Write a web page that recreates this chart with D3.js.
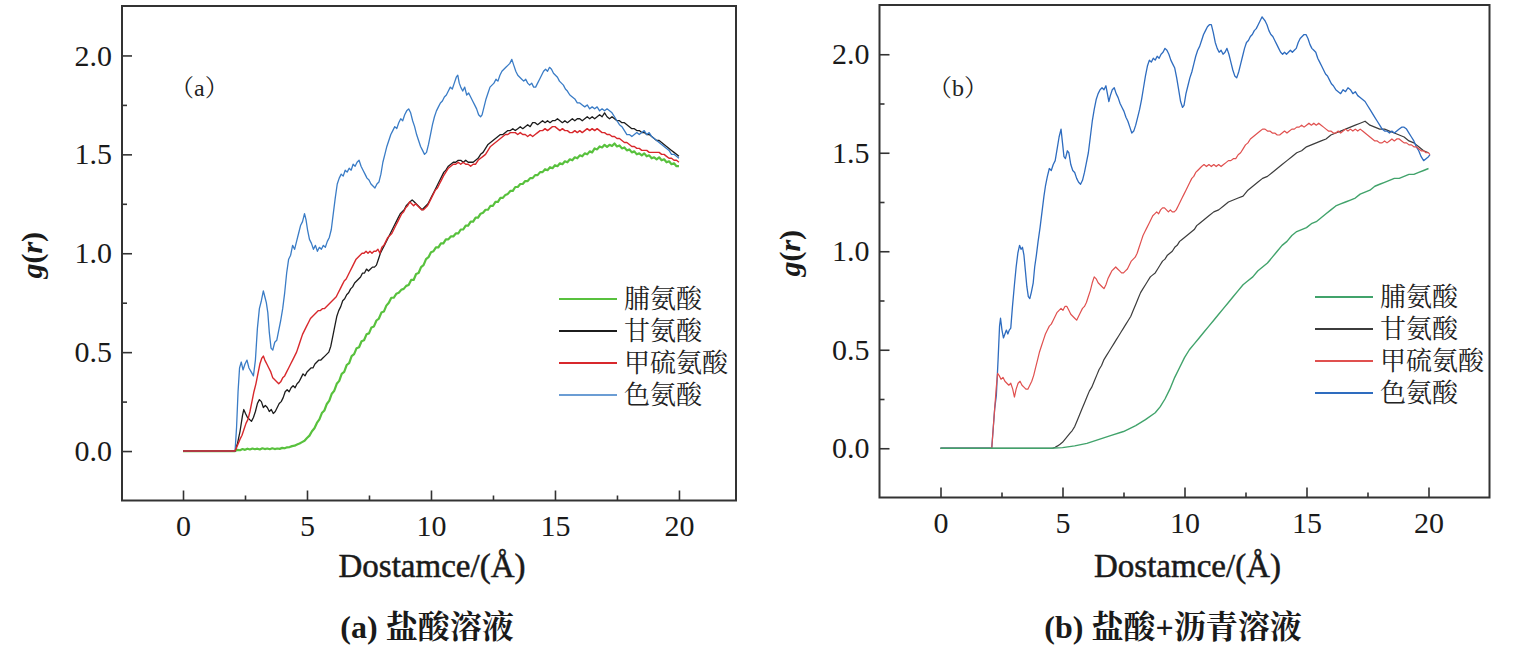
<!doctype html>
<html>
<head>
  <meta charset="utf-8">
  <title>g(r) curves</title>
  <script src="https://cdnjs.cloudflare.com/ajax/libs/d3/7.8.5/d3.min.js"></script>
  <style>
    body { margin: 0; background: #fff; }
    svg { display: block; }
    .tick line { stroke: #333; stroke-width: 1.6; }
  </style>
</head>
<body>
<div id="chart"></div>
<script>
// tick values
const xMajor = [0, 5, 10, 15, 20];
const xMinor = [2.5, 7.5, 12.5, 17.5];
const yMajor = [0, 0.5, 1.0, 1.5, 2.0];
const yMinor = [0.25, 0.75, 1.25, 1.75];

const names = ['脯氨酸', '甘氨酸', '甲硫氨酸', '色氨酸'];

// (a) 盐酸溶液  -- [r, g(r)]
const proA = [[0,0],[2.1,0],[2.2,0.006],[2.3,0.004],[2.4,0.01],[2.5,0.006],[2.6,0.012],[2.7,0.008],[2.8,0.013],[2.9,0.009],[3.0,0.012],[3.1,0.008],[3.2,0.014],[3.3,0.01],[3.4,0.013],[3.5,0.009],[3.6,0.014],[3.7,0.01],[3.8,0.013],[3.9,0.011],[4.0,0.016],[4.1,0.014],[4.2,0.019],[4.3,0.02],[4.4,0.025],[4.5,0.027],[4.6,0.033],[4.7,0.038],[4.8,0.045],[4.9,0.052],[5.0,0.066],[5.1,0.078],[5.2,0.1],[5.3,0.115],[5.4,0.142],[5.5,0.16],[5.6,0.192],[5.7,0.205],[5.8,0.238],[5.9,0.255],[6.0,0.29],[6.1,0.305],[6.2,0.34],[6.3,0.355],[6.4,0.39],[6.5,0.4],[6.6,0.435],[6.7,0.445],[6.8,0.48],[6.9,0.49],[7.0,0.52],[7.1,0.525],[7.2,0.555],[7.3,0.56],[7.4,0.59],[7.5,0.595],[7.6,0.625],[7.7,0.63],[7.8,0.66],[7.9,0.67],[8.0,0.7],[8.1,0.705],[8.2,0.735],[8.3,0.75],[8.4,0.775],[8.5,0.775],[8.6,0.795],[8.7,0.8],[8.8,0.815],[8.9,0.82],[9.0,0.835],[9.1,0.84],[9.2,0.865],[9.3,0.865],[9.4,0.895],[9.5,0.9],[9.6,0.93],[9.7,0.94],[9.8,0.97],[9.9,0.98],[10.0,1.005],[10.1,1.01],[10.2,1.03],[10.3,1.03],[10.4,1.05],[10.5,1.05],[10.6,1.07],[10.7,1.07],[10.8,1.085],[10.9,1.085],[11.0,1.1],[11.1,1.1],[11.2,1.12],[11.3,1.12],[11.4,1.14],[11.5,1.14],[11.6,1.16],[11.7,1.16],[11.8,1.18],[11.9,1.18],[12.0,1.2],[12.1,1.205],[12.2,1.22],[12.3,1.22],[12.4,1.24],[12.5,1.24],[12.6,1.26],[12.7,1.26],[12.8,1.28],[12.9,1.28],[13.0,1.295],[13.1,1.3],[13.2,1.315],[13.3,1.315],[13.4,1.335],[13.5,1.335],[13.6,1.35],[13.7,1.35],[13.8,1.365],[13.9,1.365],[14.0,1.38],[14.1,1.38],[14.2,1.395],[14.3,1.395],[14.4,1.41],[14.5,1.41],[14.6,1.425],[14.7,1.42],[14.8,1.435],[14.9,1.43],[15.0,1.445],[15.1,1.44],[15.2,1.455],[15.3,1.45],[15.4,1.465],[15.5,1.46],[15.6,1.475],[15.7,1.47],[15.8,1.485],[15.9,1.48],[16.0,1.495],[16.1,1.49],[16.2,1.505],[16.3,1.5],[16.4,1.515],[16.5,1.51],[16.6,1.53],[16.7,1.525],[16.8,1.54],[16.9,1.535],[17.0,1.548],[17.1,1.538],[17.2,1.548],[17.3,1.542],[17.4,1.555],[17.5,1.54],[17.6,1.545],[17.7,1.53],[17.8,1.535],[17.9,1.52],[18.0,1.525],[18.1,1.51],[18.2,1.515],[18.3,1.5],[18.4,1.505],[18.5,1.495],[18.6,1.505],[18.7,1.49],[18.8,1.495],[18.9,1.48],[19.0,1.485],[19.1,1.475],[19.2,1.485],[19.3,1.47],[19.4,1.475],[19.5,1.46],[19.6,1.465],[19.7,1.45],[19.8,1.455],[19.9,1.44],[20.0,1.44]];

const glyA = [[0,0],[2.1,0],[2.2,0.04],[2.3,0.1],[2.4,0.18],[2.45,0.21],[2.52,0.19],[2.6,0.17],[2.68,0.16],[2.76,0.15],[2.84,0.17],[2.92,0.2],[3.0,0.24],[3.08,0.26],[3.16,0.25],[3.24,0.22],[3.32,0.23],[3.4,0.22],[3.48,0.2],[3.56,0.21],[3.64,0.19],[3.72,0.2],[3.8,0.22],[3.88,0.24],[3.96,0.25],[4.04,0.27],[4.12,0.3],[4.2,0.31],[4.28,0.3],[4.36,0.32],[4.44,0.33],[4.52,0.32],[4.6,0.34],[4.68,0.35],[4.76,0.37],[4.84,0.39],[4.92,0.38],[5.0,0.4],[5.08,0.41],[5.16,0.42],[5.24,0.42],[5.32,0.44],[5.4,0.45],[5.48,0.46],[5.56,0.46],[5.64,0.47],[5.72,0.48],[5.8,0.49],[5.88,0.5],[5.96,0.53],[6.04,0.58],[6.12,0.63],[6.2,0.68],[6.28,0.71],[6.36,0.73],[6.44,0.76],[6.52,0.77],[6.6,0.79],[6.68,0.8],[6.76,0.82],[6.84,0.83],[6.92,0.85],[7.0,0.86],[7.08,0.87],[7.16,0.88],[7.24,0.9],[7.32,0.9],[7.4,0.92],[7.48,0.91],[7.56,0.92],[7.64,0.93],[7.72,0.93],[7.8,0.94],[7.88,0.97],[7.96,1.0],[8.04,1.02],[8.12,1.04],[8.2,1.06],[8.28,1.08],[8.36,1.1],[8.44,1.12],[8.52,1.14],[8.6,1.16],[8.68,1.18],[8.76,1.2],[8.84,1.21],[8.92,1.22],[9.0,1.24],[9.08,1.25],[9.16,1.26],[9.24,1.27],[9.32,1.26],[9.4,1.25],[9.48,1.24],[9.56,1.23],[9.64,1.22],[9.72,1.23],[9.8,1.24],[9.88,1.25],[9.96,1.27],[10.04,1.29],[10.12,1.31],[10.2,1.33],[10.28,1.35],[10.36,1.37],[10.44,1.39],[10.52,1.41],[10.6,1.42],[10.7,1.44],[10.8,1.45],[10.9,1.46],[11.0,1.46],[11.1,1.47],[11.2,1.47],[11.3,1.46],[11.4,1.47],[11.5,1.46],[11.6,1.46],[11.7,1.46],[11.8,1.47],[11.9,1.48],[12.0,1.5],[12.1,1.51],[12.2,1.53],[12.3,1.55],[12.4,1.56],[12.5,1.57],[12.6,1.58],[12.7,1.59],[12.8,1.6],[12.9,1.6],[13.0,1.61],[13.1,1.62],[13.2,1.62],[13.3,1.63],[13.4,1.62],[13.5,1.63],[13.6,1.64],[13.7,1.63],[13.8,1.64],[13.9,1.65],[14.0,1.64],[14.1,1.66],[14.2,1.66],[14.3,1.65],[14.4,1.66],[14.5,1.67],[14.6,1.66],[14.7,1.67],[14.8,1.66],[14.9,1.67],[15.0,1.67],[15.1,1.68],[15.2,1.67],[15.3,1.66],[15.4,1.67],[15.5,1.66],[15.6,1.67],[15.7,1.68],[15.8,1.67],[15.9,1.68],[16.0,1.68],[16.1,1.67],[16.2,1.68],[16.3,1.69],[16.4,1.68],[16.5,1.69],[16.6,1.68],[16.7,1.69],[16.8,1.7],[16.9,1.69],[17.0,1.71],[17.1,1.69],[17.2,1.68],[17.3,1.69],[17.4,1.68],[17.5,1.67],[17.6,1.67],[17.7,1.66],[17.8,1.66],[17.9,1.65],[18.0,1.64],[18.1,1.63],[18.2,1.63],[18.3,1.62],[18.4,1.62],[18.5,1.61],[18.6,1.61],[18.7,1.6],[18.8,1.6],[18.9,1.59],[19.0,1.58],[19.1,1.57],[19.2,1.57],[19.3,1.56],[19.4,1.55],[19.5,1.54],[19.6,1.53],[19.7,1.52],[19.8,1.51],[19.9,1.5],[20.0,1.49]];

const metA = [[0,0],[2.1,0],[2.2,0.03],[2.3,0.06],[2.38,0.08],[2.46,0.11],[2.54,0.14],[2.62,0.16],[2.7,0.2],[2.78,0.25],[2.86,0.3],[2.94,0.34],[3.02,0.39],[3.1,0.44],[3.18,0.47],[3.24,0.48],[3.3,0.46],[3.38,0.44],[3.46,0.42],[3.54,0.4],[3.62,0.37],[3.7,0.36],[3.78,0.35],[3.86,0.34],[3.94,0.35],[4.02,0.37],[4.1,0.38],[4.18,0.4],[4.26,0.42],[4.34,0.44],[4.42,0.46],[4.5,0.48],[4.58,0.5],[4.66,0.53],[4.74,0.56],[4.82,0.59],[4.9,0.61],[4.98,0.63],[5.06,0.65],[5.14,0.67],[5.22,0.68],[5.3,0.69],[5.38,0.7],[5.46,0.71],[5.54,0.71],[5.62,0.72],[5.7,0.72],[5.78,0.73],[5.86,0.74],[5.94,0.75],[6.02,0.76],[6.1,0.77],[6.18,0.78],[6.26,0.8],[6.34,0.82],[6.42,0.84],[6.5,0.86],[6.58,0.87],[6.66,0.89],[6.74,0.91],[6.82,0.93],[6.9,0.95],[6.98,0.97],[7.06,0.98],[7.14,0.99],[7.22,1.0],[7.3,1.0],[7.38,1.01],[7.46,1.0],[7.54,1.01],[7.62,1.0],[7.7,1.01],[7.78,1.01],[7.86,1.02],[7.94,1.0],[8.02,1.03],[8.1,1.04],[8.18,1.06],[8.26,1.08],[8.34,1.09],[8.42,1.1],[8.5,1.12],[8.58,1.14],[8.66,1.16],[8.74,1.18],[8.82,1.2],[8.9,1.21],[8.98,1.23],[9.06,1.24],[9.14,1.26],[9.22,1.25],[9.3,1.24],[9.38,1.25],[9.46,1.24],[9.54,1.23],[9.62,1.22],[9.7,1.22],[9.78,1.23],[9.86,1.24],[9.94,1.26],[10.02,1.28],[10.1,1.3],[10.18,1.32],[10.26,1.33],[10.34,1.35],[10.42,1.37],[10.5,1.39],[10.6,1.41],[10.7,1.43],[10.8,1.44],[10.9,1.45],[11.0,1.45],[11.1,1.46],[11.2,1.45],[11.3,1.46],[11.4,1.45],[11.5,1.45],[11.6,1.44],[11.7,1.45],[11.8,1.45],[11.9,1.47],[12.0,1.48],[12.1,1.49],[12.2,1.5],[12.3,1.52],[12.4,1.54],[12.5,1.55],[12.6,1.56],[12.7,1.57],[12.8,1.58],[12.9,1.59],[13.0,1.6],[13.1,1.6],[13.2,1.61],[13.3,1.61],[13.4,1.61],[13.5,1.6],[13.6,1.61],[13.7,1.6],[13.8,1.6],[13.9,1.59],[14.0,1.6],[14.1,1.59],[14.2,1.6],[14.3,1.61],[14.4,1.62],[14.5,1.62],[14.6,1.63],[14.7,1.62],[14.8,1.63],[14.9,1.64],[15.0,1.64],[15.1,1.63],[15.2,1.62],[15.3,1.63],[15.4,1.62],[15.5,1.62],[15.6,1.61],[15.7,1.61],[15.8,1.62],[15.9,1.61],[16.0,1.62],[16.1,1.61],[16.2,1.62],[16.3,1.63],[16.4,1.62],[16.5,1.63],[16.6,1.62],[16.7,1.63],[16.8,1.62],[16.9,1.61],[17.0,1.61],[17.1,1.6],[17.2,1.6],[17.3,1.59],[17.4,1.59],[17.5,1.58],[17.6,1.58],[17.7,1.57],[17.8,1.56],[17.9,1.56],[18.0,1.55],[18.1,1.54],[18.2,1.54],[18.3,1.53],[18.4,1.53],[18.5,1.52],[18.6,1.52],[18.7,1.52],[18.8,1.51],[18.9,1.51],[19.0,1.51],[19.1,1.51],[19.2,1.51],[19.3,1.5],[19.4,1.5],[19.5,1.49],[19.6,1.48],[19.7,1.48],[19.8,1.47],[19.9,1.47],[20.0,1.46]];

const trpA = [[0,0],[2.1,0],[2.16,0.12],[2.22,0.3],[2.28,0.42],[2.35,0.45],[2.42,0.41],[2.5,0.44],[2.58,0.46],[2.66,0.42],[2.75,0.4],[2.84,0.38],[2.92,0.46],[3.0,0.62],[3.08,0.72],[3.16,0.76],[3.24,0.81],[3.3,0.78],[3.36,0.75],[3.42,0.7],[3.48,0.6],[3.55,0.52],[3.62,0.51],[3.7,0.55],[3.78,0.56],[3.86,0.61],[3.94,0.66],[4.02,0.72],[4.1,0.8],[4.18,0.9],[4.26,0.97],[4.34,0.99],[4.42,1.04],[4.5,1.02],[4.58,1.06],[4.66,1.1],[4.74,1.14],[4.82,1.16],[4.9,1.2],[4.96,1.17],[5.02,1.12],[5.1,1.07],[5.18,1.05],[5.26,1.02],[5.34,1.04],[5.42,1.01],[5.5,1.03],[5.58,1.02],[5.66,1.04],[5.74,1.03],[5.82,1.06],[5.9,1.08],[5.98,1.12],[6.06,1.2],[6.14,1.28],[6.22,1.35],[6.3,1.38],[6.38,1.4],[6.46,1.39],[6.54,1.42],[6.62,1.41],[6.7,1.43],[6.78,1.42],[6.86,1.45],[6.94,1.44],[7.02,1.46],[7.1,1.47],[7.18,1.44],[7.26,1.42],[7.34,1.4],[7.42,1.38],[7.5,1.37],[7.58,1.35],[7.66,1.34],[7.74,1.33],[7.82,1.35],[7.9,1.36],[7.98,1.4],[8.06,1.46],[8.14,1.5],[8.22,1.54],[8.3,1.57],[8.38,1.6],[8.46,1.62],[8.54,1.64],[8.62,1.63],[8.7,1.66],[8.78,1.68],[8.86,1.67],[8.94,1.7],[9.02,1.72],[9.1,1.73],[9.18,1.71],[9.26,1.67],[9.34,1.64],[9.42,1.6],[9.5,1.57],[9.58,1.54],[9.66,1.52],[9.74,1.5],[9.82,1.51],[9.9,1.55],[9.98,1.6],[10.06,1.65],[10.14,1.69],[10.22,1.72],[10.3,1.74],[10.38,1.76],[10.46,1.77],[10.54,1.79],[10.62,1.8],[10.7,1.82],[10.78,1.84],[10.86,1.83],[10.94,1.86],[11.02,1.89],[11.08,1.9],[11.14,1.86],[11.2,1.84],[11.28,1.82],[11.36,1.84],[11.44,1.8],[11.52,1.81],[11.6,1.79],[11.68,1.77],[11.76,1.75],[11.84,1.73],[11.92,1.7],[12.0,1.69],[12.06,1.7],[12.14,1.74],[12.22,1.78],[12.3,1.81],[12.38,1.84],[12.46,1.85],[12.54,1.86],[12.62,1.88],[12.7,1.87],[12.78,1.9],[12.86,1.92],[12.94,1.93],[13.02,1.94],[13.1,1.95],[13.18,1.96],[13.26,1.98],[13.34,1.95],[13.42,1.92],[13.5,1.9],[13.58,1.89],[13.66,1.88],[13.74,1.87],[13.82,1.88],[13.9,1.86],[13.98,1.85],[14.06,1.86],[14.14,1.84],[14.22,1.84],[14.3,1.86],[14.38,1.88],[14.46,1.9],[14.54,1.92],[14.62,1.93],[14.7,1.92],[14.78,1.94],[14.86,1.93],[14.94,1.91],[15.02,1.9],[15.1,1.89],[15.18,1.87],[15.26,1.86],[15.34,1.85],[15.42,1.83],[15.5,1.82],[15.6,1.8],[15.7,1.79],[15.8,1.78],[15.9,1.76],[16.0,1.76],[16.1,1.75],[16.2,1.74],[16.3,1.75],[16.4,1.73],[16.5,1.74],[16.6,1.73],[16.7,1.74],[16.8,1.72],[16.9,1.73],[17.0,1.72],[17.1,1.73],[17.2,1.72],[17.3,1.71],[17.4,1.69],[17.5,1.67],[17.6,1.65],[17.7,1.64],[17.8,1.62],[17.9,1.6],[18.0,1.6],[18.1,1.59],[18.2,1.6],[18.3,1.61],[18.4,1.6],[18.5,1.61],[18.6,1.62],[18.7,1.6],[18.8,1.61],[18.9,1.59],[19.0,1.58],[19.1,1.57],[19.2,1.56],[19.3,1.55],[19.4,1.54],[19.5,1.53],[19.6,1.52],[19.7,1.5],[19.8,1.5],[19.9,1.49],[20.0,1.48]];

// (b) 盐酸+沥青溶液  -- [r, g(r)]
const proB = [[0,0],[4.5,0],[5.0,0.003],[5.5,0.012],[6.0,0.025],[6.5,0.045],[7.0,0.065],[7.5,0.085],[8.0,0.115],[8.4,0.145],[8.8,0.18],[9.0,0.21],[9.2,0.25],[9.4,0.3],[9.6,0.36],[9.8,0.41],[10.0,0.46],[10.2,0.5],[10.4,0.53],[10.6,0.56],[10.8,0.59],[11.0,0.62],[11.2,0.65],[11.4,0.68],[11.6,0.71],[11.8,0.74],[12.0,0.77],[12.2,0.8],[12.4,0.83],[12.6,0.85],[12.8,0.87],[13.0,0.9],[13.2,0.92],[13.4,0.94],[13.6,0.97],[13.8,1.0],[14.0,1.03],[14.2,1.05],[14.4,1.08],[14.6,1.1],[14.8,1.11],[15.0,1.12],[15.2,1.14],[15.4,1.15],[15.6,1.17],[15.8,1.19],[16.0,1.21],[16.2,1.23],[16.4,1.24],[16.6,1.25],[16.8,1.26],[17.0,1.27],[17.2,1.29],[17.4,1.3],[17.6,1.31],[17.8,1.33],[18.0,1.34],[18.2,1.35],[18.4,1.36],[18.6,1.37],[18.8,1.37],[19.0,1.38],[19.2,1.39],[19.4,1.39],[19.6,1.4],[19.8,1.41],[20.0,1.42]];

const glyB = [[0,0],[4.6,0],[4.7,0.005],[4.8,0.012],[4.9,0.02],[5.0,0.03],[5.1,0.045],[5.2,0.06],[5.3,0.075],[5.4,0.09],[5.5,0.11],[5.6,0.14],[5.7,0.17],[5.8,0.2],[5.9,0.23],[6.0,0.26],[6.1,0.29],[6.2,0.31],[6.3,0.34],[6.4,0.37],[6.5,0.4],[6.6,0.42],[6.7,0.45],[6.8,0.47],[6.9,0.49],[7.0,0.51],[7.1,0.53],[7.2,0.55],[7.3,0.57],[7.4,0.59],[7.5,0.61],[7.6,0.63],[7.7,0.65],[7.8,0.67],[7.9,0.7],[8.0,0.73],[8.1,0.76],[8.2,0.79],[8.3,0.81],[8.4,0.83],[8.5,0.85],[8.6,0.87],[8.7,0.88],[8.8,0.89],[8.9,0.91],[9.0,0.93],[9.1,0.95],[9.2,0.96],[9.3,0.98],[9.4,0.99],[9.5,1.0],[9.6,1.02],[9.7,1.03],[9.8,1.05],[9.9,1.06],[10.0,1.07],[10.1,1.08],[10.2,1.09],[10.3,1.1],[10.4,1.11],[10.5,1.13],[10.6,1.14],[10.7,1.15],[10.8,1.16],[10.9,1.17],[11.0,1.18],[11.2,1.2],[11.4,1.21],[11.6,1.23],[11.8,1.25],[12.0,1.26],[12.2,1.27],[12.4,1.28],[12.6,1.31],[12.8,1.33],[13.0,1.35],[13.2,1.37],[13.4,1.38],[13.6,1.4],[13.8,1.42],[14.0,1.44],[14.2,1.46],[14.4,1.48],[14.6,1.5],[14.8,1.51],[15.0,1.53],[15.2,1.54],[15.4,1.55],[15.6,1.56],[15.8,1.57],[16.0,1.59],[16.2,1.6],[16.4,1.61],[16.6,1.62],[16.8,1.63],[17.0,1.64],[17.2,1.65],[17.4,1.66],[17.6,1.64],[17.8,1.63],[18.0,1.62],[18.2,1.62],[18.4,1.61],[18.6,1.6],[18.8,1.59],[19.0,1.58],[19.2,1.56],[19.4,1.55],[19.6,1.53],[19.8,1.51],[20.0,1.5]];

const metB = [[0,0],[2.1,0],[2.16,0.1],[2.22,0.2],[2.28,0.3],[2.34,0.38],[2.4,0.37],[2.48,0.35],[2.56,0.36],[2.64,0.34],[2.72,0.33],[2.8,0.32],[2.88,0.33],[2.96,0.3],[3.03,0.26],[3.1,0.3],[3.18,0.33],[3.26,0.34],[3.34,0.32],[3.42,0.31],[3.5,0.3],[3.58,0.3],[3.66,0.32],[3.74,0.34],[3.82,0.37],[3.9,0.41],[3.98,0.45],[4.06,0.49],[4.14,0.52],[4.22,0.55],[4.3,0.58],[4.38,0.6],[4.46,0.62],[4.54,0.63],[4.62,0.65],[4.7,0.67],[4.78,0.69],[4.86,0.7],[4.94,0.71],[5.02,0.7],[5.1,0.72],[5.18,0.72],[5.26,0.7],[5.34,0.68],[5.42,0.67],[5.5,0.66],[5.58,0.65],[5.66,0.67],[5.74,0.69],[5.82,0.71],[5.9,0.72],[5.98,0.74],[6.06,0.77],[6.14,0.8],[6.22,0.84],[6.3,0.87],[6.38,0.86],[6.46,0.84],[6.54,0.83],[6.62,0.82],[6.7,0.81],[6.78,0.83],[6.86,0.86],[6.94,0.88],[7.02,0.9],[7.1,0.91],[7.18,0.92],[7.26,0.91],[7.34,0.9],[7.42,0.89],[7.5,0.89],[7.58,0.9],[7.66,0.91],[7.74,0.93],[7.82,0.95],[7.9,0.96],[7.98,0.97],[8.06,0.99],[8.14,1.02],[8.22,1.05],[8.3,1.08],[8.38,1.1],[8.46,1.12],[8.54,1.14],[8.62,1.16],[8.7,1.18],[8.78,1.19],[8.86,1.2],[8.94,1.19],[9.02,1.21],[9.1,1.22],[9.18,1.22],[9.26,1.21],[9.34,1.2],[9.42,1.21],[9.5,1.2],[9.58,1.2],[9.66,1.21],[9.74,1.23],[9.82,1.25],[9.9,1.27],[9.98,1.29],[10.06,1.31],[10.14,1.33],[10.22,1.35],[10.3,1.37],[10.38,1.38],[10.46,1.4],[10.54,1.41],[10.62,1.42],[10.7,1.43],[10.8,1.44],[10.9,1.43],[11.0,1.44],[11.1,1.43],[11.2,1.44],[11.3,1.43],[11.4,1.44],[11.5,1.43],[11.6,1.44],[11.7,1.45],[11.8,1.46],[11.9,1.46],[12.0,1.47],[12.1,1.47],[12.2,1.49],[12.3,1.5],[12.4,1.52],[12.5,1.54],[12.6,1.55],[12.7,1.57],[12.8,1.58],[12.9,1.59],[13.0,1.6],[13.1,1.61],[13.2,1.62],[13.3,1.62],[13.4,1.61],[13.5,1.61],[13.6,1.6],[13.7,1.6],[13.8,1.59],[13.9,1.59],[14.0,1.6],[14.1,1.61],[14.2,1.6],[14.3,1.61],[14.4,1.62],[14.5,1.62],[14.6,1.63],[14.7,1.63],[14.8,1.64],[14.9,1.63],[15.0,1.64],[15.1,1.65],[15.2,1.64],[15.3,1.65],[15.4,1.64],[15.5,1.65],[15.6,1.64],[15.7,1.63],[15.8,1.62],[15.9,1.61],[16.0,1.61],[16.1,1.6],[16.2,1.6],[16.3,1.61],[16.4,1.6],[16.5,1.61],[16.6,1.62],[16.7,1.61],[16.8,1.62],[16.9,1.61],[17.0,1.62],[17.1,1.61],[17.2,1.62],[17.3,1.61],[17.4,1.6],[17.5,1.59],[17.6,1.58],[17.7,1.57],[17.8,1.56],[17.9,1.56],[18.0,1.55],[18.1,1.55],[18.2,1.56],[18.3,1.55],[18.4,1.56],[18.5,1.57],[18.6,1.56],[18.7,1.57],[18.8,1.57],[18.9,1.56],[19.0,1.55],[19.1,1.55],[19.2,1.54],[19.3,1.54],[19.4,1.53],[19.5,1.53],[19.6,1.52],[19.7,1.51],[19.8,1.51],[19.9,1.5],[20.0,1.5],[20.06,1.49]];

const trpB = [[0,0],[2.1,0],[2.16,0.1],[2.22,0.2],[2.29,0.27],[2.36,0.45],[2.42,0.62],[2.46,0.66],[2.52,0.6],[2.58,0.56],[2.64,0.58],[2.7,0.6],[2.76,0.58],[2.82,0.6],[2.88,0.61],[2.95,0.72],[3.03,0.83],[3.1,0.92],[3.17,0.99],[3.24,1.03],[3.3,1.01],[3.36,1.02],[3.42,0.98],[3.48,0.9],[3.54,0.82],[3.6,0.77],[3.66,0.76],[3.72,0.79],[3.8,0.84],[3.86,0.92],[3.93,0.98],[4.0,1.05],[4.08,1.12],[4.16,1.2],[4.24,1.28],[4.3,1.33],[4.38,1.38],[4.46,1.42],[4.54,1.41],[4.62,1.44],[4.7,1.46],[4.78,1.52],[4.86,1.58],[4.94,1.62],[5.0,1.55],[5.06,1.48],[5.12,1.47],[5.2,1.51],[5.26,1.5],[5.34,1.44],[5.42,1.41],[5.5,1.4],[5.58,1.37],[5.66,1.35],[5.74,1.34],[5.82,1.36],[5.9,1.4],[5.98,1.45],[6.06,1.5],[6.14,1.58],[6.22,1.66],[6.3,1.72],[6.38,1.77],[6.46,1.8],[6.54,1.82],[6.62,1.83],[6.7,1.82],[6.78,1.84],[6.84,1.8],[6.9,1.76],[6.96,1.79],[7.04,1.82],[7.12,1.83],[7.2,1.8],[7.28,1.78],[7.36,1.75],[7.44,1.73],[7.52,1.71],[7.6,1.68],[7.68,1.66],[7.76,1.63],[7.84,1.6],[7.92,1.61],[8.0,1.64],[8.08,1.68],[8.16,1.72],[8.24,1.77],[8.32,1.83],[8.4,1.89],[8.48,1.94],[8.56,1.97],[8.64,1.96],[8.72,1.98],[8.8,1.97],[8.88,1.99],[8.96,1.98],[9.04,2.0],[9.12,2.01],[9.2,2.03],[9.28,2.02],[9.36,2.0],[9.44,1.97],[9.52,1.95],[9.6,1.93],[9.68,1.88],[9.76,1.82],[9.84,1.76],[9.92,1.73],[9.98,1.74],[10.06,1.8],[10.14,1.84],[10.22,1.88],[10.3,1.91],[10.38,1.95],[10.46,1.99],[10.54,2.02],[10.62,2.04],[10.7,2.07],[10.78,2.1],[10.86,2.12],[10.94,2.14],[11.02,2.15],[11.1,2.15],[11.18,2.11],[11.26,2.06],[11.34,2.03],[11.42,2.01],[11.5,2.02],[11.58,2.0],[11.66,2.01],[11.74,2.03],[11.82,2.0],[11.9,1.96],[11.98,1.92],[12.06,1.89],[12.14,1.88],[12.22,1.91],[12.3,1.95],[12.38,1.99],[12.46,2.03],[12.54,2.06],[12.62,2.07],[12.7,2.09],[12.78,2.1],[12.86,2.12],[12.94,2.13],[13.02,2.15],[13.1,2.17],[13.18,2.19],[13.24,2.18],[13.3,2.17],[13.38,2.15],[13.46,2.12],[13.54,2.1],[13.62,2.09],[13.7,2.07],[13.78,2.05],[13.86,2.03],[13.94,2.01],[14.02,2.0],[14.1,2.01],[14.18,2.0],[14.26,2.01],[14.34,2.02],[14.42,2.01],[14.5,2.02],[14.58,2.03],[14.66,2.06],[14.74,2.08],[14.82,2.09],[14.9,2.1],[14.98,2.1],[15.06,2.08],[15.14,2.05],[15.22,2.03],[15.3,2.02],[15.38,2.01],[15.46,1.98],[15.54,1.96],[15.62,1.94],[15.7,1.92],[15.78,1.9],[15.86,1.89],[15.94,1.87],[16.02,1.85],[16.1,1.84],[16.2,1.82],[16.3,1.81],[16.4,1.8],[16.5,1.82],[16.6,1.81],[16.7,1.83],[16.8,1.82],[16.9,1.8],[17.0,1.81],[17.1,1.79],[17.2,1.78],[17.3,1.77],[17.4,1.76],[17.5,1.74],[17.6,1.72],[17.7,1.7],[17.8,1.68],[17.9,1.66],[18.0,1.64],[18.1,1.62],[18.2,1.61],[18.3,1.61],[18.4,1.6],[18.5,1.61],[18.6,1.6],[18.7,1.61],[18.8,1.62],[18.9,1.63],[19.0,1.63],[19.1,1.62],[19.2,1.6],[19.3,1.58],[19.4,1.56],[19.5,1.53],[19.6,1.51],[19.7,1.48],[19.8,1.46],[19.9,1.47],[20.0,1.48],[20.06,1.49]];

const serif = '"Liberation Serif", "Times New Roman", serif';
const cjk = '"Liberation Serif", "Noto Serif CJK SC", "Noto Sans CJK SC", serif';

const svg = d3.select('#chart')
  .append('svg')
  .attr('width', 1519)
  .attr('height', 662);

function drawPanel(p) {
  const x = d3.scaleLinear().domain(p.xDomain).range([p.left, p.right]);
  const y = d3.scaleLinear().domain([-0.25, 2.25]).range([p.bottom, p.top]);
  const g = svg.append('g');

  // minor ticks first, then labelled major ticks
  g.append('g')
    .attr('transform', `translate(0,${p.bottom})`)
    .call(d3.axisBottom(x).tickValues(xMinor).tickSize(-5).tickFormat(''))
    .call(a => a.select('.domain').remove());
  g.append('g')
    .attr('transform', `translate(0,${p.bottom})`)
    .call(d3.axisBottom(x).tickValues(xMajor).tickSize(-10).tickPadding(10).tickFormat(d3.format('d')))
    .call(a => a.select('.domain').remove())
    .selectAll('text')
    .attr('dy', '0.85em')
    .style('font-family', serif)
    .style('font-size', '30px')
    .style('fill', '#1a1a1a');
  g.append('g')
    .attr('transform', `translate(${p.left},0)`)
    .call(d3.axisLeft(y).tickValues(yMinor).tickSize(-5).tickFormat(''))
    .call(a => a.select('.domain').remove());
  g.append('g')
    .attr('transform', `translate(${p.left},0)`)
    .call(d3.axisLeft(y).tickValues(yMajor).tickSize(-10).tickPadding(10).tickFormat(d3.format('.1f')))
    .call(a => a.select('.domain').remove())
    .selectAll('text')
    .style('font-family', serif)
    .style('font-size', '30px')
    .style('fill', '#1a1a1a');

  const line = d3.line().x(d => x(d[0])).y(d => y(d[1]));

  p.series.forEach(s => {
    g.append('path')
      .datum(s.data)
      .attr('fill', 'none')
      .attr('stroke', s.color)
      .attr('stroke-width', s.width)
      .attr('stroke-linejoin', 'round')
      .attr('d', line);
  });

  g.append('rect')
    .attr('x', p.left).attr('y', p.top)
    .attr('width', p.right - p.left).attr('height', p.bottom - p.top)
    .attr('fill', 'none')
    .attr('stroke', '#333')
    .attr('stroke-width', 2);

  // legend (same order as names)
  const legend = g.selectAll('.legend')
    .data(p.legend)
    .join('g')
    .attr('class', 'legend')
    .attr('transform', (d, i) => `translate(${p.legX},${p.legY + i * 32})`);
  legend.append('line')
    .attr('x1', 0).attr('x2', 58)
    .attr('stroke', d => d.color)
    .attr('stroke-width', d => d.lw);
  legend.append('text')
    .attr('x', 65)
    .attr('dy', '0.36em')
    .style('font-family', cjk)
    .style('font-size', '26px')
    .style('fill', '#222')
    .text(d => d.name);

  g.append('text')
    .attr('x', p.tagX).attr('y', 88)
    .attr('dy', '0.35em')
    .style('font-family', cjk)
    .style('font-size', '24px')
    .style('fill', '#222')
    .text(p.tag);

  const yl = g.append('text')
    .attr('transform', `translate(${p.left - 80},${(p.top + p.bottom) / 2 + 2}) rotate(-90)`)
    .attr('text-anchor', 'middle')
    .style('font-family', serif)
    .style('font-size', '30px')
    .style('font-weight', 'bold')
    .style('fill', '#1a1a1a');
  yl.append('tspan').style('font-style', 'italic').text('g');
  yl.append('tspan').text('(');
  yl.append('tspan').style('font-style', 'italic').text('r');
  yl.append('tspan').text(')');

  g.append('text')
    .attr('x', (p.left + p.right) / 2 + 3).attr('y', 577)
    .attr('text-anchor', 'middle')
    .style('font-family', serif)
    .style('font-size', '33px')
    .style('fill', '#1a1a1a')
    .style('stroke', '#1a1a1a')
    .style('stroke-width', 0.5)
    .text('Dostamce/(Å)');

  g.append('text')
    .attr('x', p.capX).attr('y', 638)
    .attr('text-anchor', 'middle')
    .style('font-family', cjk)
    .style('font-size', '32px')
    .style('font-weight', 'bold')
    .style('fill', '#1a1a1a')
    .text(p.caption);
}

const colA = ['#58c13d', '#1c1c1c', '#d8282c', '#3a7cc6'];
const colB = ['#41a36b', '#3c3c3c', '#e0504f', '#2e6cbf'];

drawPanel({
  left: 122, right: 736, top: 6, bottom: 500.5,
  xDomain: [-2.46, 22.3],
  series: [
    { data: proA, color: colA[0], width: 2.2 },
    { data: glyA, color: colA[1], width: 1.3 },
    { data: trpA, color: colA[3], width: 1.3 },
    { data: metA, color: colA[2], width: 1.4 }
  ],
  legend: names.map((n, i) => ({ name: n, color: colA[i], lw: i === 3 ? 1.5 : 2.2 })),
  legX: 559, legY: 299,
  tag: '（a）', tagX: 170,
  caption: '(a) 盐酸溶液', capX: 427
});

drawPanel({
  left: 879.5, right: 1489.5, top: 5, bottom: 497.5,
  xDomain: [-2.5, 22.5],
  series: [
    { data: glyB, color: colB[1], width: 1.2 },
    { data: trpB, color: colB[3], width: 1.3 },
    { data: metB, color: colB[2], width: 1.2 },
    { data: proB, color: colB[0], width: 1.4 }
  ],
  legend: names.map((n, i) => ({ name: n, color: colB[i], lw: 2 })),
  legX: 1315, legY: 297,
  tag: '（b）', tagX: 928,
  caption: '(b) 盐酸+沥青溶液', capX: 1173
});
</script>
</body>
</html>
